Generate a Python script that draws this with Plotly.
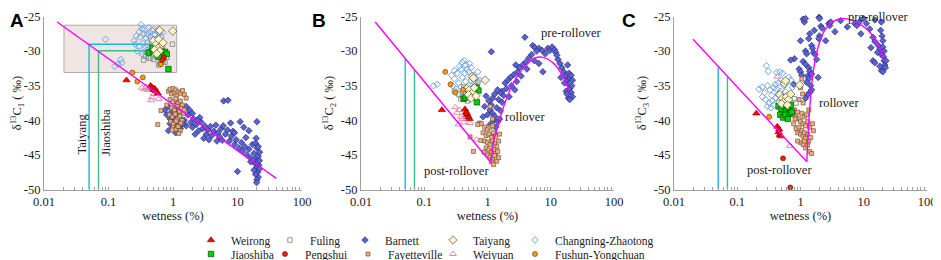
import plotly.graph_objects as go

SERIF = "Liberation Serif, Times New Roman, serif"

# ---------------- Panel A : wetness (%) vs d13C1 ----------------
weirong_A = [(0.19, -34.2), (0.45, -35.0), (0.48, -35.3), (0.5, -35.6), (0.52, -35.4), (0.55, -35.8), (0.58, -36.1)]
fuling_A = [(0.98, -29.0), (0.6, -32.0), (0.65, -31.6), (0.45, -31.0), (0.5, -31.2), (0.38, -30.7), (0.42, -31.0),
            (0.55, -30.8), (0.7, -31.5), (0.48, -30.5), (0.35, -31.3), (0.62, -31.8), (0.75, -31.6), (0.8, -30.9)]
barnett_A = [(0.75, -38.5), (0.8, -39.2), (0.85, -38.0), (0.9, -39.8), (0.95, -38.8), (1.0, -39.5), (1.05, -40.2),
             (1.1, -38.4), (1.15, -39.0), (1.2, -40.5), (1.3, -39.7), (1.4, -38.2), (1.5, -40.0), (1.6, -40.8),
             (1.7, -39.2), (1.8, -38.5), (1.9, -40.3), (2.0, -41.0), (2.1, -39.8), (2.3, -40.6), (2.5, -41.5),
             (2.7, -40.2), (2.9, -41.2), (3.1, -40.8), (3.3, -42.0), (3.5, -41.4), (3.8, -40.9), (4.0, -42.2),
             (4.3, -41.6), (4.6, -40.7), (5.0, -41.8), (5.3, -42.4), (5.6, -41.2), (6.0, -40.8), (6.5, -42.0),
             (7.0, -41.4), (7.5, -43.0), (8.0, -42.3), (8.5, -41.6), (9.0, -43.5), (9.5, -42.8), (10.5, -44.0),
             (11, -40.2), (11.5, -43.2), (12, -44.5), (13, -43.8), (14, -45.0), (15, -44.2), (16, -45.5),
             (17, -43.5), (18, -44.8), (18.5, -46.2), (19, -43.3), (19.5, -45.6), (20, -44.0), (20, -46.8),
             (20.5, -47.5), (21, -45.2), (21, -48.2), (21.5, -46.5), (22, -44.6), (22, -47.0), (19, -47.8),
             (20, -48.6), (21, -43.8), (20, -40.2), (6.1, -37.2), (7.1, -37.1), (10, -47.4), (1.2, -37.5),
             (1.0, -41.0), (0.9, -40.5), (1.3, -41.2), (2.2, -42.0), (2.6, -39.6), (3.0, -42.6), (4.8, -43.0),
             (13.5, -42.5), (16, -46.0), (18, -47.2), (19.5, -42.6), (15, -41.5), (9, -41.8), (0.85, -41.5),
             (1.6, -38.0), (2.4, -40.0), (1.1, -41.8), (1.4, -40.6), (2.0, -39.0), (3.6, -42.8), (5.8, -42.9),
             (7.8, -40.4), (12.5, -41.0), (17.5, -45.8), (20.8, -46.0), (19.8, -49.0), (21.8, -45.8)]
taiyang_A = [(0.62, -27.0), (0.99, -27.1), (0.5, -28.5), (0.55, -29.0), (0.6, -28.3), (0.65, -29.3), (0.58, -29.6),
             (0.52, -29.8), (0.7, -28.8), (0.62, -30.0), (0.56, -30.4)]
changning_A = [(0.09, -28.3), (0.155, -31.2), (0.16, -31.7), (0.125, -32.2), (0.14, -31.9), (0.25, -28.5),
               (0.27, -27.8), (0.3, -27.2), (0.32, -26.2), (0.33, -26.8), (0.35, -27.5), (0.36, -26.9),
               (0.38, -28.1), (0.4, -27.6), (0.42, -26.6), (0.44, -27.3), (0.45, -28.4), (0.47, -27.0),
               (0.5, -26.9), (0.52, -27.7), (0.55, -28.2), (0.58, -27.1), (0.6, -28.6), (0.62, -27.4),
               (0.65, -28.0), (0.3, -29.3), (0.34, -28.9), (0.37, -29.6), (0.41, -28.7), (0.46, -29.1),
               (0.5, -29.5), (0.28, -30.0), (0.33, -30.4), (0.39, -29.9), (0.43, -30.2), (0.48, -28.8),
               (0.53, -29.4), (0.56, -30.1), (0.26, -29.0), (0.31, -28.0), (0.35, -30.6), (0.4, -29.8),
               (0.45, -27.9), (0.6, -26.8), (0.7, -27.3)]
jiaoshiba_A = [(0.42, -30.2), (0.5, -30.0), (0.58, -30.3), (0.66, -29.9), (0.75, -30.1), (0.48, -29.5),
               (0.55, -29.3), (0.62, -29.6), (0.7, -30.6), (0.8, -30.4), (0.85, -32.6), (0.6, -30.8)]
pengshui_A = [(0.72, -30.9), (0.68, -31.3)]
fayetteville_A = [(0.85, -35.8), (0.9, -35.5), (0.95, -36.2), (1.0, -35.4), (1.05, -36.0), (1.1, -35.6),
                  (1.15, -36.4), (1.2, -35.9), (1.3, -36.1), (1.4, -35.7), (1.5, -36.3), (1.6, -36.8),
                  (0.9, -37.0), (1.0, -37.3), (1.1, -36.9), (1.2, -37.5), (1.3, -37.2), (1.4, -37.8),
                  (0.95, -38.2), (1.05, -38.5), (1.15, -38.0), (1.25, -38.7), (1.35, -38.3), (1.45, -39.0),
                  (0.88, -39.2), (0.98, -39.5), (1.08, -39.1), (1.18, -39.8), (1.28, -39.4), (1.38, -40.0),
                  (0.92, -40.2), (1.02, -40.5), (1.12, -40.1), (1.22, -40.8), (1.32, -40.4), (1.0, -41.0),
                  (1.1, -41.3), (1.2, -40.9), (1.3, -41.5), (0.65, -38.6), (0.58, -40.6), (0.97, -41.4),
                  (1.23, -41.9), (0.8, -37.8), (1.5, -38.5)]
weiyuan_A = [(0.33, -35.3), (0.36, -35.5), (0.38, -35.2), (0.41, -35.6), (0.44, -35.4), (0.46, -37.1),
             (0.47, -36.7), (0.6, -36.9), (0.5, -36.2)]
fushun_A = [(0.235, -33.1), (0.34, -33.8), (0.28, -34.4), (0.65, -31.9), (0.72, -31.0)]

# ---------------- Panel B : wetness (%) vs d13C2 ----------------
weirong_B = [(0.19, -38.5), (0.44, -38.4), (0.46, -38.8), (0.48, -39.2), (0.5, -39.5), (0.52, -39.8), (0.47, -39.0)]
fuling_B = [(0.3, -35.8), (0.35, -36.2), (0.4, -36.5), (0.45, -36.0), (0.5, -35.5), (0.55, -36.8), (0.6, -36.3),
            (0.65, -35.0), (0.42, -35.2), (0.38, -36.9), (0.7, -34.5), (0.48, -37.2)]
barnett_B = [(3.9, -28.0), (1.15, -30.1), (5.2, -29.2), (5.6, -29.5), (6.5, -29.6), (7.3, -29.9), (9.0, -29.6),
             (9.7, -29.9), (10.5, -29.4), (11.5, -29.8), (12, -30.2), (8.2, -30.4), (6.0, -30.0), (5.0, -30.5),
             (4.5, -31.0), (5.5, -31.4), (6.5, -31.8), (7.5, -33.0), (4.0, -31.6), (3.6, -32.0), (3.2, -32.4),
             (2.8, -32.0), (3.0, -33.0), (2.6, -33.4), (2.3, -33.8), (2.1, -34.2), (2.4, -35.0), (2.0, -35.4),
             (1.9, -34.6), (1.7, -35.8), (2.9, -34.4), (3.4, -33.6), (4.2, -32.6), (1.8, -36.4), (1.6, -36.0),
             (2.2, -36.6), (2.7, -35.6), (13, -31.2), (14, -31.8), (15, -32.4), (16, -33.0), (17, -33.6),
             (18, -34.2), (19, -34.8), (20, -35.4), (21, -36.0), (22, -36.6), (18.5, -32.0), (19.5, -33.2),
             (20.5, -34.0), (21.5, -35.0), (17.5, -35.8), (19, -36.8), (20, -37.0), (21, -33.5), (16.5, -34.6),
             (22, -34.2), (14.5, -33.8), (12.5, -30.6), (18, -36.2), (0.95, -36.5), (1.05, -37.2), (1.15, -37.8),
             (1.1, -38.5), (1.2, -39.0), (1.3, -39.4), (1.4, -38.2), (1.5, -37.0), (1.0, -39.2), (1.25, -40.0),
             (1.45, -40.2), (1.35, -41.0), (0.9, -38.0), (1.6, -38.6), (1.7, -37.4), (0.85, -39.5), (1.2, -36.8),
             (1.45, -35.6), (1.3, -36.2), (1.55, -39.8), (1.1, -40.6), (1.3, -42.0)]
taiyang_B = [(0.57, -33.7), (0.6, -33.9), (0.92, -34.2), (0.47, -35.4), (0.52, -35.6), (0.58, -36.0), (0.5, -36.3),
             (0.62, -35.3), (0.55, -36.8), (0.66, -36.5)]
changning_B = [(0.14, -35.0), (0.16, -34.8), (0.27, -33.5), (0.3, -32.8), (0.33, -33.2), (0.36, -32.2), (0.4, -31.6),
               (0.43, -31.4), (0.45, -32.0), (0.48, -32.6), (0.5, -33.0), (0.55, -32.4), (0.6, -33.5), (0.65, -34.0),
               (0.7, -33.0), (0.75, -34.2), (0.3, -34.0), (0.35, -34.6), (0.4, -33.8), (0.45, -34.4), (0.5, -35.0),
               (0.55, -34.2), (0.6, -35.2), (0.32, -35.5), (0.38, -35.2), (0.42, -36.0), (0.48, -35.8),
               (0.52, -36.4), (0.58, -36.0), (0.28, -35.0), (0.62, -34.6), (0.44, -33.2), (0.38, -32.6),
               (0.52, -31.8), (0.66, -35.6), (0.35, -36.3)]
jiaoshiba_B = [(0.42, -36.9), (0.45, -36.7), (0.67, -35.3), (0.72, -35.7), (0.68, -37.4), (0.55, -36.2),
               (0.5, -36.4), (0.62, -36.0)]
pengshui_B = []
fayetteville_B = [(0.75, -40.4), (0.8, -40.5), (0.9, -41.0), (1.0, -41.3), (1.1, -41.0), (1.2, -40.8), (0.85, -41.8),
                  (0.95, -42.2), (1.05, -42.0), (1.15, -42.5), (1.25, -41.8), (1.35, -42.3), (0.9, -43.0),
                  (1.0, -43.2), (1.1, -43.5), (1.2, -43.0), (1.3, -43.4), (1.4, -43.8), (0.95, -44.0),
                  (1.05, -44.3), (1.15, -44.6), (1.25, -44.2), (1.35, -44.8), (1.45, -44.5), (1.0, -45.0),
                  (1.1, -45.3), (1.2, -45.6), (1.3, -45.1), (1.4, -45.9), (1.5, -45.4), (0.6, -44.5),
                  (0.53, -42.4), (0.78, -42.9), (1.5, -43.0), (1.55, -42.0), (0.88, -44.6), (1.15, -46.0),
                  (1.25, -46.4), (1.2, -39.8), (1.1, -38.0), (0.7, -40.6)]
weiyuan_B = [(0.31, -38.1), (0.33, -38.9), (0.36, -38.5), (0.38, -39.5), (0.35, -40.6), (0.42, -40.3), (0.53, -40.4),
             (0.67, -42.8), (0.4, -39.8)]
fushun_B = [(0.215, -33.0), (0.26, -34.8), (0.31, -36.0), (0.41, -35.6)]

# ---------------- Panel C : wetness (%) vs d13C3 ----------------
weirong_C = [(0.2, -39.0), (0.43, -40.9), (0.45, -41.7), (0.47, -42.1), (0.49, -42.3), (0.46, -41.3)]
fuling_C = [(0.45, -37.4), (0.55, -37.6), (0.65, -37.2), (0.8, -36.9), (0.85, -37.5), (0.72, -38.3)]
barnett_C = [(1.1, -25.4), (1.15, -25.8), (1.2, -25.3), (1.97, -25.1), (2.1, -26.4), (2.2, -26.7), (2.8, -26.0),
             (2.9, -26.3), (1.4, -27.5), (1.35, -28.2), (1.0, -28.5), (2.0, -27.8), (1.95, -28.2), (1.5, -29.2),
             (1.55, -29.6), (1.2, -30.0), (1.25, -30.4), (1.6, -30.2), (1.7, -30.5), (0.8, -31.1), (1.1, -31.5),
             (1.2, -31.9), (0.95, -32.6), (1.0, -33.0), (1.35, -32.4), (1.4, -32.9), (1.3, -33.6), (1.35, -34.0),
             (1.05, -33.5), (1.5, -33.3), (1.25, -34.5), (1.45, -35.0), (1.5, -35.6), (1.4, -36.0), (1.3, -36.3),
             (1.2, -36.8), (0.78, -34.8), (0.7, -31.3), (4.3, -25.6), (7.2, -26.0), (7.8, -26.3), (10, -25.3),
             (11, -26.0), (12.4, -26.8), (15, -25.5), (19, -25.8), (14, -28.0), (15, -28.6), (18.5, -27.0),
             (19.5, -27.8), (20, -28.5), (17, -29.2), (18, -29.7), (20, -29.4), (21, -30.0), (14, -31.4),
             (15, -31.7), (19, -30.5), (20.5, -30.8), (21, -31.4), (21.5, -32.0), (22, -32.4), (19, -32.8),
             (20, -33.0), (18, -32.2), (22.5, -31.4), (16.5, -30.2), (13, -29.5), (9, -27.5), (8.5, -25.8),
             (5.5, -26.5), (3.5, -27.2), (2.5, -28.5), (1.8, -31.2), (3.0, -25.8), (2.0, -25.3), (1.65, -27.0),
             (1.9, -33.8)]
taiyang_C = [(0.56, -34.7), (0.58, -34.3), (0.97, -34.9), (0.47, -36.3), (0.52, -36.8), (0.56, -37.2), (0.6, -36.6),
             (0.65, -37.0), (0.5, -37.6), (0.62, -37.8), (0.7, -36.2)]
changning_C = [(0.29, -32.1), (0.31, -32.9), (0.42, -33.1), (0.47, -33.0), (0.52, -33.2), (0.22, -35.5), (0.25, -35.2),
               (0.27, -36.0), (0.3, -35.0), (0.33, -35.6), (0.35, -36.4), (0.38, -35.3), (0.4, -34.8), (0.45, -34.6),
               (0.5, -34.2), (0.55, -35.0), (0.6, -34.5), (0.65, -33.8), (0.7, -34.2), (0.75, -35.2), (0.28, -37.0),
               (0.32, -37.5), (0.36, -37.2), (0.4, -36.8), (0.44, -36.2), (0.48, -35.8), (0.52, -36.6), (0.3, -38.0),
               (0.34, -38.2), (0.38, -37.8), (0.25, -36.6), (0.42, -35.5), (0.58, -35.9), (0.62, -36.5)]
jiaoshiba_C = [(0.45, -38.0), (0.5, -38.4), (0.55, -38.0), (0.6, -38.6), (0.65, -38.2), (0.7, -37.8), (0.48, -39.2),
               (0.53, -39.6), (0.58, -39.2), (0.63, -39.8), (0.68, -39.0), (0.73, -38.8)]
pengshui_C = [(0.53, -45.5), (0.69, -49.7)]
fayetteville_C = [(1.05, -34.0), (1.0, -35.3), (1.08, -36.2), (0.95, -37.0), (1.1, -37.5), (0.8, -38.5), (0.85, -39.5),
                  (0.9, -38.8), (0.95, -39.8), (1.0, -40.2), (1.05, -39.0), (1.1, -40.5), (1.15, -39.5),
                  (1.2, -40.8), (1.3, -40.2), (1.4, -41.0), (0.78, -40.5), (0.85, -41.2), (0.9, -41.8),
                  (0.95, -41.0), (1.0, -42.0), (1.05, -41.5), (1.1, -42.3), (1.15, -41.8), (1.2, -42.6),
                  (1.3, -42.0), (1.35, -43.0), (1.45, -42.5), (1.0, -43.2), (1.1, -43.5), (1.2, -44.0),
                  (1.3, -43.6), (1.4, -44.5), (1.5, -44.8), (0.9, -43.0), (1.55, -40.5), (1.6, -41.5),
                  (0.82, -39.8), (1.25, -39.2), (1.35, -38.5), (0.75, -39.2), (1.15, -43.0)]
weiyuan_C = [(0.43, -33.7), (0.68, -43.7)]
fushun_C = [(0.32, -39.5)]

# ---------------- trend / reference lines ----------------
line_A = [(0.016, -25.8), (40, -48.4)]
line_B = [(0.0168, -25.8), (1.13, -46.1)]
curve_B = [(1.13, -46.1), (1.26, -42.9), (1.48, -40.7), (1.88, -37.5), (2.55, -34.6),
           (3.66, -32.5), (5.6, -31.0), (7.6, -30.9), (10.9, -31.7), (15.7, -33.7), (19.5, -35.8)]
line_C = [(0.02, -28.3), (1.26, -46.0)]
curve_C = [(1.26, -46.0), (1.31, -42.5), (1.42, -37.5), (1.56, -33.5), (1.85, -29.8),
           (2.41, -27.0), (3.47, -25.6), (5.0, -25.3), (7.65, -25.8), (11.7, -27.0), (17.9, -29.5), (21, -31.4)]
taiyang_ref = {"A": [(0.44, -29.0), (0.05, -29.0), (0.05, -50)],
               "B": [(0.05, -31.06), (0.05, -50)],
               "C": [(0.05, -32.2), (0.05, -50)]}
jiaoshiba_ref = {"A": [(0.44, -29.95), (0.07, -29.95), (0.07, -50)],
                 "B": [(0.07, -32.7), (0.07, -50)],
                 "C": [(0.07, -33.66), (0.07, -50)]}
box_A_x = [0.0204, 1.14]
box_A_y = [-33.1, -26.26]

series_style = {
    "Weirong": dict(symbol="triangle-up", color="#ff0000", line="#7a0000", size=6.5, leg=1),
    "Fuling": dict(symbol="square-open", color="#8d9c88", line=None, size=4.5, leg=2),
    "Barnett": dict(symbol="diamond", color="#5a62d6", line="#1b1b5a", size=5, leg=3),
    "Taiyang": dict(symbol="diamond", color="#fbf5c6", line="#333333", size=6.5, leg=4),
    "Changning-Zhaotong": dict(symbol="diamond-open", color="#72a6dd", line=None, size=5, leg=5),
    "Jiaoshiba": dict(symbol="square", color="#00d200", line="#0b300b", size=5.5, leg=6),
    "Pengshui": dict(symbol="circle", color="#e8200c", line="#5a1000", size=5, leg=7),
    "Fayetteville": dict(symbol="square", color="#f2ae80", line="#5e4432", size=4, leg=8),
    "Weiyuan": dict(symbol="triangle-up-open", color="#e589ac", line=None, size=6, leg=9),
    "Fushun-Yongchuan": dict(symbol="circle", color="#ff9a10", line="#5a3000", size=5, leg=10),
}
# target positions in page pixels (page is 941 x 260)
legend_x_px = {1: 191, 2: 270, 3: 345, 4: 433, 5: 515, 6: 191, 7: 265, 8: 348, 9: 433, 10: 515}
legend_row_y_px = {1: 240, 2: 254}

panel_data = {
    "A": {"Barnett": barnett_A, "Fayetteville": fayetteville_A, "Changning-Zhaotong": changning_A,
          "Fuling": fuling_A, "Jiaoshiba": jiaoshiba_A, "Taiyang": taiyang_A, "Weiyuan": weiyuan_A,
          "Weirong": weirong_A, "Fushun-Yongchuan": fushun_A, "Pengshui": pengshui_A},
    "B": {"Barnett": barnett_B, "Fayetteville": fayetteville_B, "Changning-Zhaotong": changning_B,
          "Fuling": fuling_B, "Jiaoshiba": jiaoshiba_B, "Taiyang": taiyang_B, "Weiyuan": weiyuan_B,
          "Weirong": weirong_B, "Fushun-Yongchuan": fushun_B, "Pengshui": pengshui_B},
    "C": {"Barnett": barnett_C, "Fayetteville": fayetteville_C, "Changning-Zhaotong": changning_C,
          "Fuling": fuling_C, "Jiaoshiba": jiaoshiba_C, "Taiyang": taiyang_C, "Weiyuan": weiyuan_C,
          "Weirong": weirong_C, "Fushun-Yongchuan": fushun_C, "Pengshui": pengshui_C},
}
lines = {"A": [line_A], "B": [line_B, curve_B], "C": [line_C, curve_C]}
axis_ids = {"A": ("x", "y"), "B": ("x2", "y2"), "C": ("x3", "y3")}

# the page body has an 8px margin, so the figure is 8px smaller and positions are shifted
PAGE_MARGIN = 8
FIG_W = 941 - PAGE_MARGIN
FIG_H = 260 - PAGE_MARGIN


def fx(px):
    return (px - PAGE_MARGIN) / FIG_W


def fy(py):
    return 1 - (py - PAGE_MARGIN) / FIG_H


def unzip(pts):
    return [p[0] for p in pts], [p[1] for p in pts]


def legend_key(n):
    return "legend" if n == 1 else "legend%d" % n


fig = go.Figure()

# highlighted box in panel A
bx = [box_A_x[0], box_A_x[1], box_A_x[1], box_A_x[0], box_A_x[0]]
by = [box_A_y[0], box_A_y[0], box_A_y[1], box_A_y[1], box_A_y[0]]
fig.add_trace(go.Scatter(x=bx, y=by, mode="lines", fill="toself", fillcolor="#efe5e3",
                         line=dict(color="#b3a7a5", width=1), hoverinfo="skip", showlegend=False,
                         xaxis="x", yaxis="y"))

for panel in ["A", "B", "C"]:
    xa, ya = axis_ids[panel]
    for ref, col in [(taiyang_ref, "#19b4ea"), (jiaoshiba_ref, "#3dba86")]:
        rx, ry = unzip(ref[panel])
        fig.add_trace(go.Scatter(x=rx, y=ry, mode="lines", line=dict(color=col, width=1.4),
                                 showlegend=False, hoverinfo="skip", xaxis=xa, yaxis=ya))
    for name, pts in panel_data[panel].items():
        if not pts:
            continue
        st = series_style[name]
        px_, py_ = unzip(pts)
        mk = dict(symbol=st["symbol"], size=st["size"], color=st["color"])
        if st["line"]:
            mk["line"] = dict(color=st["line"], width=0.6)
        else:
            mk["line"] = dict(color=st["color"], width=1)
        fig.add_trace(go.Scatter(
            x=px_, y=py_, mode="markers", name=name, marker=mk, cliponaxis=False,
            showlegend=(panel == "A"), legend=legend_key(st["leg"]),
            xaxis=xa, yaxis=ya))
    for i, seg in enumerate(lines[panel]):
        tx, ty = unzip(seg)
        fig.add_trace(go.Scatter(x=tx, y=ty, mode="lines",
                                 line=dict(color="#ff00ff", width=1.4,
                                           shape="spline" if i == 1 else "linear", smoothing=0.8),
                                 showlegend=False, hoverinfo="skip", xaxis=xa, yaxis=ya))

ydom = [fy(189.5), fy(16.5)]
xdoms = {"A": [fx(44), fx(302)], "B": [fx(361), fx(614)], "C": [fx(674), fx(927)]}
ytitles = {"A": "δ<sup>13</sup>C<sub>1</sub> ( ‰)", "B": "δ<sup>13</sup>C<sub>2</sub> ( ‰)",
           "C": "δ<sup>13</sup>C<sub>3</sub> ( ‰)"}
ytick_vals = [-50, -45, -40, -35, -30, -25]
ytick_text = ["-50", "-45", "-40", "-35", "-30", "-25"]
xtick_vals = [0.01, 0.1, 1, 10, 100]
xtick_text = ["0.01", "0.1", "1", "10", "100"]
xminor_vals = [m * d for d in [0.01, 0.1, 1, 10] for m in range(2, 10)]
tfont = dict(family=SERIF, size=12.5, color="#1a1a1a")

layout = dict(width=FIG_W, height=FIG_H, margin=dict(l=0, r=0, t=0, b=0, autoexpand=False),
              paper_bgcolor="white", plot_bgcolor="white", font=dict(family=SERIF, color="#1a1a1a"))
for panel in ["A", "B", "C"]:
    xa, ya = axis_ids[panel]
    xk = "xaxis" + xa[1:]
    yk = "yaxis" + ya[1:]
    layout[xk] = dict(type="log", range=[-2, 2], domain=xdoms[panel], anchor=ya, showgrid=False,
                      automargin=False, zeroline=False, showline=True, linecolor="#a0a0a0", linewidth=1,
                      tickmode="array", tickvals=xtick_vals, ticktext=xtick_text, ticks="inside",
                      ticklen=3, tickcolor="#a0a0a0", tickfont=tfont,
                      minor=dict(tickmode="array", tickvals=xminor_vals, ticks="inside", ticklen=2.5,
                                 tickcolor="#a0a0a0", showgrid=False),
                      title=dict(text="wetness (%)", font=tfont, standoff=3))
    layout[yk] = dict(range=[-50, -25], domain=ydom, anchor=xa, showgrid=False, zeroline=False,
                      automargin=False, showline=True, linecolor="#a0a0a0", linewidth=1, ticks="",
                      tickmode="array", tickvals=ytick_vals, ticktext=ytick_text, tickfont=tfont,
                      title=dict(text=ytitles[panel], font=tfont, standoff=4))

for n in range(1, 11):
    row = 1 if n <= 5 else 2
    layout[legend_key(n)] = dict(orientation="h", xanchor="left", yanchor="middle",
                                 x=fx(legend_x_px[n]), y=fy(legend_row_y_px[row]),
                                 font=dict(family=SERIF, size=11.5, color="#1a1a1a"),
                                 bgcolor="rgba(0,0,0,0)", itemwidth=30)

annotations = []
for letter, xp in [("A", 8), ("B", 310), ("C", 620)]:
    annotations.append(dict(text="<b>%s</b>" % letter, x=fx(xp), y=fy(8), xref="paper", yref="paper",
                            xanchor="left", yanchor="top", showarrow=False,
                            font=dict(family="Liberation Sans", size=19, color="black")))
afont = dict(family=SERIF, size=12.5, color="#1a1a1a")
labels = [("x", "y", "Taiyang", -1.411, -41.9, -90), ("x", "y", "Jiaoshiba", -1.039, -41.7, -90),
          ("x2", "y2", "pre-rollover", 1.329, -27.4, 0), ("x2", "y2", "rollover", 0.591, -39.5, 0),
          ("x2", "y2", "post-rollover", -0.488, -47.3, 0),
          ("x3", "y3", "rollover", 0.604, -37.5, 0),
          ("x3", "y3", "post-rollover", -0.329, -47.2, 0)]
for xr, yr, txt, lx, ly, ang in labels:
    annotations.append(dict(text=txt, x=lx, y=ly, xref=xr, yref=yr, showarrow=False, textangle=ang,
                            font=afont))
# panel C label sits above the plot area, kept just inside the figure's top edge
annotations.append(dict(text="pre-rollover", x=1.241, xref="x3", y=fy(8), yref="paper", yanchor="top",
                        showarrow=False, font=afont))
layout["annotations"] = annotations

fig.update_layout(**layout)
fig.write_html("out.html")
